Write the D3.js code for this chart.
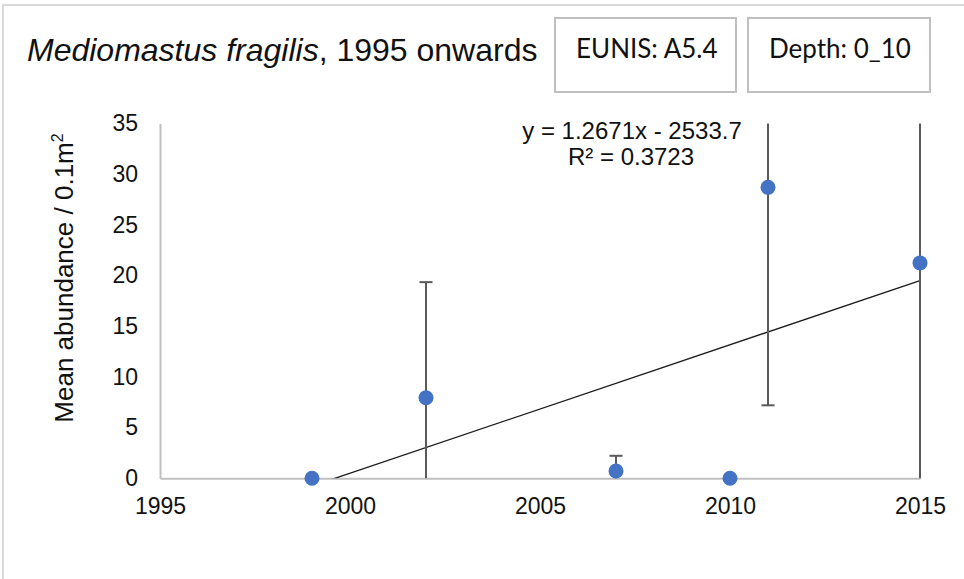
<!DOCTYPE html>
<html>
<head>
<meta charset="utf-8">
<script src="https://cdn.jsdelivr.net/npm/d3@7"></script>
<style>
  html, body { margin: 0; padding: 0; background: #fff; }
  svg { display: block; }
  text { font-family: "Liberation Sans", Arial, sans-serif; fill: #111; }
</style>
</head>
<body>
<svg id="chart" width="964" height="579"></svg>
<script>
// Survey years with mean abundance per 0.1 m² and the error-bar half-widths
const years = [1999, 2002, 2007, 2010, 2011, 2015];
const meanAbundance = [0, 7.95, 0.72, 0, 28.7, 21.25];
const errorAmount = [0, 11.4, 1.5, 0, 21.5, 24];

// Axis ticks
const xTicks = [1995, 2000, 2005, 2010, 2015];
const yTicks = [0, 5, 10, 15, 20, 25, 30, 35];

// Linear trendline as printed in its label
const trendSlope = 1.2671;
const trendIntercept = -2533.7;
const trendR2 = 0.3723;

const svg = d3.select("#chart");

const plot = { left: 160, right: 920, top: 123.5, bottom: 478.3 };
const x = d3.scaleLinear().domain([1995, 2015]).range([plot.left, plot.right]);
const y = d3.scaleLinear().domain([0, 35]).range([plot.bottom, plot.top]);

// Chart area outline (only top and left edges fall inside the view)
svg.append("rect")
  .attr("x", 3).attr("y", 5)
  .attr("width", 1200).attr("height", 800)
  .attr("fill", "none")
  .attr("stroke", "#d9d9d9")
  .attr("stroke-width", 2);

// Title: species name in italics
const title = svg.append("text")
  .attr("x", 27).attr("y", 61)
  .style("font-size", "32px");
title.append("tspan").style("font-style", "italic").text("Mediomastus fragilis");
title.append("tspan").text(", 1995 onwards");

// Info boxes
const boxes = [
  { label: "EUNIS: A5.4", x0: 555, x1: 736 },
  { label: "Depth: 0_10", x0: 748, x1: 930 }
];
const boxG = svg.append("g");
boxes.forEach(b => {
  boxG.append("rect")
    .attr("x", b.x0).attr("y", 18)
    .attr("width", b.x1 - b.x0).attr("height", 74)
    .attr("fill", "#fff")
    .attr("stroke", "#bfbfbf")
    .attr("stroke-width", 2);
  boxG.append("text")
    .attr("x", b.x0 + 21).attr("y", 58)
    .style("font-family", "Lato, 'Liberation Sans', sans-serif")
    .style("font-size", "26px")
    .text(b.label);
});

// Axes
const yAxis = d3.axisLeft(y).tickValues(yTicks).tickSizeInner(0).tickSizeOuter(0).tickPadding(22);
const xAxis = d3.axisBottom(x).tickValues(xTicks).tickFormat(d3.format("d")).tickSizeInner(0).tickSizeOuter(0).tickPadding(19);

const gy = svg.append("g").attr("transform", `translate(${plot.left},0)`).call(yAxis);
const gx = svg.append("g").attr("transform", `translate(0,${plot.bottom})`).call(xAxis);

[gx, gy].forEach(g => {
  g.select(".domain").attr("stroke", "#c0c0c0").attr("stroke-width", 2);
  g.selectAll(".tick text")
    .style("font-family", "'Liberation Sans', Arial, sans-serif")
    .style("font-size", "23px")
    .attr("fill", "#111");
});

// Y axis title
const yTitle = svg.append("text")
  .attr("transform", `translate(73,278) rotate(-90)`)
  .attr("text-anchor", "middle")
  .style("font-size", "26px");
yTitle.append("tspan").text("Mean abundance / 0.1m");
yTitle.append("tspan").attr("dy", -10).style("font-size", "16px").text("2");

// Clip to the plotting area
svg.append("clipPath").attr("id", "plotClip")
  .append("rect")
  .attr("x", plot.left).attr("y", plot.top)
  .attr("width", plot.right - plot.left + 8)
  .attr("height", plot.bottom - plot.top);

const data = years.map((yr, i) => ({ year: yr, mean: meanAbundance[i], err: errorAmount[i] }));

// Trendline
const xMin = d3.min(years), xMax = d3.max(years);
svg.append("line")
  .attr("clip-path", "url(#plotClip)")
  .attr("x1", x(xMin)).attr("y1", y(trendSlope * xMin + trendIntercept))
  .attr("x2", x(xMax)).attr("y2", y(trendSlope * xMax + trendIntercept))
  .attr("stroke", "#1a1a1a")
  .attr("stroke-width", 1.3);

// Error bars, clipped to the value range; caps only where the end is visible
const [yLo, yHi] = y.domain();
const capHalf = 6.5;
const eb = svg.append("g").attr("stroke", "#5a5a5a").attr("stroke-width", 2).attr("fill", "none");
data.filter(d => d.err > 0).forEach(d => {
  const lo = d.mean - d.err, hi = d.mean + d.err;
  const cx = x(d.year);
  eb.append("line")
    .attr("x1", cx).attr("x2", cx)
    .attr("y1", y(Math.max(lo, yLo))).attr("y2", y(Math.min(hi, yHi)));
  if (hi <= yHi) {
    eb.append("line").attr("x1", cx - capHalf).attr("x2", cx + capHalf)
      .attr("y1", y(hi)).attr("y2", y(hi));
  }
  if (lo >= yLo) {
    eb.append("line").attr("x1", cx - capHalf).attr("x2", cx + capHalf)
      .attr("y1", y(lo)).attr("y2", y(lo));
  }
});

// Markers
svg.append("g").selectAll("circle")
  .data(data)
  .join("circle")
  .attr("cx", d => x(d.year))
  .attr("cy", d => y(d.mean))
  .attr("r", 7.5)
  .attr("fill", "#4472c4");

// Trendline equation label
const fmtEq = `y = ${trendSlope}x - ${Math.abs(trendIntercept)}`;
const eq = svg.append("text")
  .attr("text-anchor", "middle")
  .style("font-size", "24px");
eq.append("tspan").attr("x", 632).attr("y", 139).text(fmtEq);
eq.append("tspan").attr("x", 631).attr("y", 165).text(`R² = ${trendR2}`);
</script>
</body>
</html>
